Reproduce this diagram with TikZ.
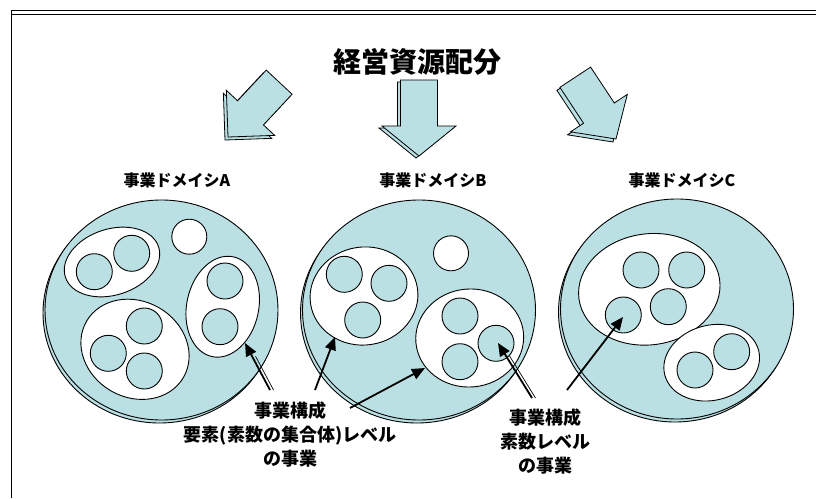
\documentclass[tikz,border=0pt]{standalone}
\usepackage{fontspec}
\setmainfont{Noto Sans CJK JP}
\usetikzlibrary{shapes.geometric,arrows.meta,calc}
\definecolor{pale}{RGB}{187,224,227}
\newcommand\BlkArr[5]{%
  \path[blk,#5] (0,0) -- (-#2,#3) -- (-#2,#4) -- (-#1,#4) -- (-#1,-#4) -- (-#2,-#4) -- (-#2,-#3) -- cycle;}
\begin{document}
\begin{tikzpicture}[x=1pt,y=-1pt,
  bigc/.style={ellipse, draw, fill=pale, line width=0.9pt, minimum width=233pt, minimum height=220pt, inner sep=0pt},
  grp/.style={ellipse, draw, fill=white, line width=0.9pt, inner sep=0pt},
  elem/.style={circle, draw, fill=pale, line width=0.9pt, minimum size=36pt, inner sep=0pt},
  freec/.style={circle, draw, fill=white, line width=0.9pt, minimum size=35pt, inner sep=0pt},
  blk/.style={draw, fill=pale, line width=0.8pt, line join=miter},
  ptr/.style={line width=1.8pt, -{Triangle[length=13pt,width=11pt]}},
  thinline/.style={line width=0.7pt},
  dom/.style={font=\bfseries\fontsize{16}{18}\selectfont},
  lbl/.style={font=\bfseries\fontsize{18}{24}\selectfont, align=center},
]
\useasboundingbox (0,0) rectangle (816,498);
% frame
\draw[line width=0.8pt] (11,10.3) -- (816,10.3);
\draw[line width=0.8pt] (11,14) -- (816,14);
\draw[line width=1.4pt] (11.7,10) -- (11.7,498);

% title
\node[font=\bfseries\fontsize{28}{30}\selectfont] (title) at (417,62) {経営資源配分};

% block arrows (shadow then main)
\begin{scope}[shift={(225,140)}, rotate=227] \BlkArr{75}{33}{33}{17.7}{} \end{scope}
\begin{scope}[shift={(228,137)}, rotate=227] \BlkArr{75}{33}{33}{17.7}{} \end{scope}
\begin{scope}[shift={(416,158)}, rotate=270] \BlkArr{76}{30}{37}{18.5}{} \end{scope}
\begin{scope}[shift={(419,156)}, rotate=270] \BlkArr{76}{30}{37}{18.5}{} \end{scope}
\begin{scope}[shift={(613,142)}, rotate=303.4] \BlkArr{74}{31}{34}{18.4}{} \end{scope}
\begin{scope}[shift={(616,139)}, rotate=303.4] \BlkArr{74}{31}{34}{18.4}{} \end{scope}

% domain labels
\node[dom] (tA) at (177,180) {事業ドメイシA};
\node[dom] (tB) at (433,180) {事業ドメイシB};
\node[dom] (tC) at (682,180) {事業ドメイシC};

% domain A
\node[bigc] (Ash) at (159.5,313) {};
\node[bigc] (A) at (161.5,310) {};
\node[grp, minimum width=98pt, minimum height=66pt, rotate=18] (A1) at (112,262) {};
\node[elem] (A1a) at (94.3,271.7) {};
\node[elem] (A1b) at (131.7,253.3) {};
\node[freec] (A0) at (189.3,236.7) {};
\node[grp, minimum width=102pt, minimum height=72pt, rotate=78] (A2) at (222.7,306.7) {};
\node[elem] (A2a) at (225,281) {};
\node[elem] (A2b) at (220,326.7) {};
\node[grp, minimum width=112pt, minimum height=96pt, rotate=-30] (A3) at (135,349.3) {};
\node[elem] (A3a) at (144.3,326) {};
\node[elem] (A3b) at (108.3,353.3) {};
\node[elem] (A3c) at (144.3,371) {};

% domain B
\node[bigc] (Bsh) at (417,313) {};
\node[bigc] (B) at (419,310) {};
\node[grp, minimum width=108pt, minimum height=98pt, rotate=8] (B1) at (364,296) {};
\node[elem] (B1a) at (344.3,274.3) {};
\node[elem] (B1b) at (389,283.3) {};
\node[elem] (B1c) at (362.7,320) {};
\node[freec] (B0) at (451,253.3) {};
\node[grp, minimum width=108pt, minimum height=98pt, rotate=5] (B2) at (469.7,338) {};
\node[elem] (B2a) at (460,316) {};
\node[elem] (B2b) at (460,361.7) {};
\node[elem] (B2c) at (496,343.3) {};

% domain C
\node[bigc] (Csh) at (675,312) {};
\node[bigc] (C) at (677,309) {};
\node[grp, minimum width=142pt, minimum height=111pt, rotate=8] (C1) at (649.3,289.3) {};
\node[elem] (C1a) at (641,270) {};
\node[elem] (C1b) at (686.7,270) {};
\node[elem] (C1c) at (668.3,306.7) {};
\node[elem] (C1d) at (623.3,315) {};
\node[grp, minimum width=97pt, minimum height=75pt, rotate=15] (C2) at (711.7,362.7) {};
\node[elem] (C2a) at (695,370) {};
\node[elem] (C2b) at (731.7,351.7) {};

% labels
\node[lbl] (L1) at (290,435) {事業構成\\要素(素数の集合体)レベル\\の事業};
\node[lbl] (L2) at (545,442) {事業構成\\素数レベル\\の事業};

% pointer arrows
\coordinate (pA0) at (270,390); \coordinate (pA1) at (245,343);
\coordinate (pB0) at (315,390); \coordinate (pB1) at (335,337);
\coordinate (pC0) at (350,408); \coordinate (pC1) at (425,368);
\coordinate (pD0) at (532,398); \coordinate (pD1) at (498,343);
\coordinate (pE0) at (567,390); \coordinate (pE1) at (623,317);
\coordinate (pA2) at ($(pA1)!15pt!(pA0)$);
\coordinate (pD2) at ($(pD1)!15pt!(pD0)$);
\draw[thinline] ([xshift=3.5pt]pA0) -- ([xshift=3.5pt]pA2);
\draw[ptr] (pA0) -- (pA1);
\draw[ptr] (pB0) -- (pB1);
\draw[ptr] (pC0) -- (pC1);
\draw[thinline] ([xshift=3.5pt]pD0) -- ([xshift=3.5pt]pD2);
\draw[ptr] (pD0) -- (pD1);
\draw[ptr] (pE0) -- (pE1);
\end{tikzpicture}
\end{document}
